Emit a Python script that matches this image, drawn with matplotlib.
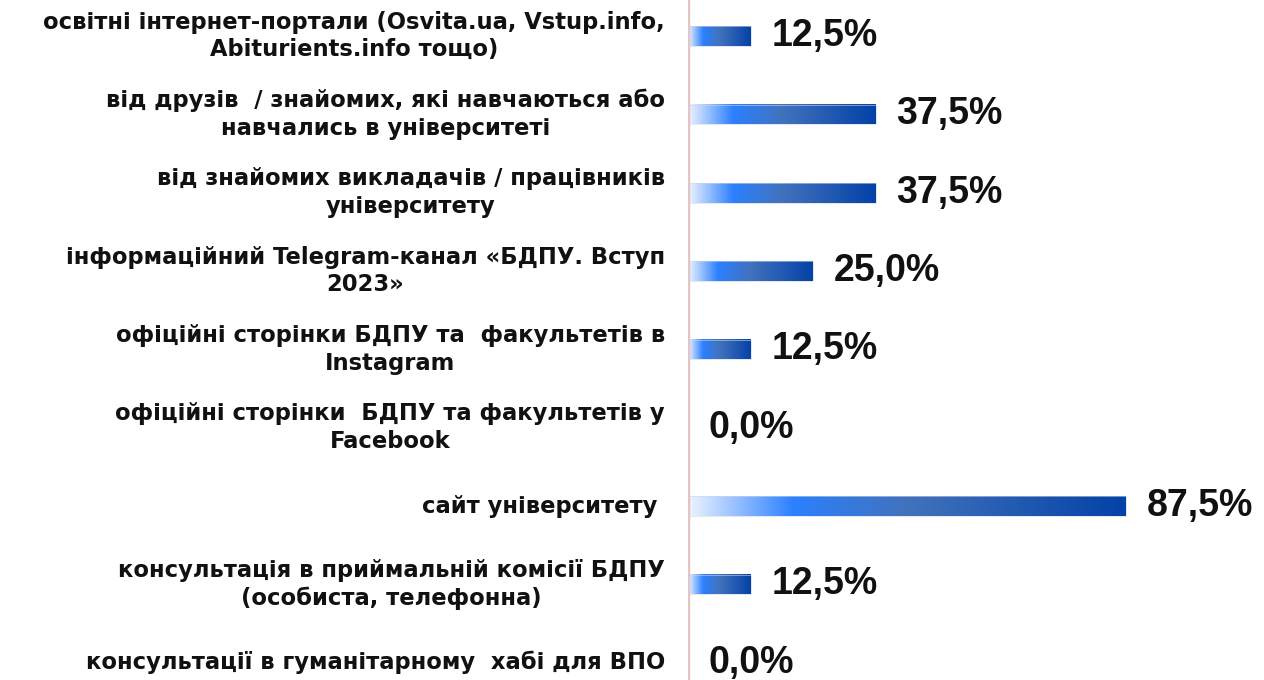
import matplotlib.pyplot as plt
import numpy as np
from matplotlib.colors import LinearSegmentedColormap

plt.rcParams['font.family'] = ['Liberation Sans', 'DejaVu Sans']

labels = [
    "освітні інтернет-портали (Osvita.ua, Vstup.info,\nAbiturients.info тощо)",
    "від друзів  / знайомих, які навчаються або\nнавчались в університеті",
    "від знайомих викладачів / працівників\nуніверситету",
    "інформаційний Telegram-канал «БДПУ. Вступ\n2023»",
    "офіційні сторінки БДПУ та  факультетів в\nInstagram",
    "офіційні сторінки  БДПУ та факультетів у\nFacebook",
    "сайт університету ",
    "консультація в приймальній комісії БДПУ\n(особиста, телефонна)",
    "консультації в гуманітарному  хабі для ВПО",
]
values = [12.5, 37.5, 37.5, 25.0, 12.5, 0.0, 87.5, 12.5, 0.0]

# blue gradient along each bar
bar_cmap = LinearSegmentedColormap.from_list(
    "bar", [(0.0, "#eef4ff"), (0.24, "#2c80ff"), (0.5, "#4272bc"), (1.0, "#0442a8")])
grad = np.linspace(0, 1, 256).reshape(1, -1)

fig = plt.figure(figsize=(12.64, 6.8), dpi=100)
ax = fig.add_axes([688 / 1264, 0, 500 / 1264, 1])

bar_h = 0.25
for i, (lab, v) in enumerate(zip(labels, values)):
    if v > 0:
        ax.imshow(grad, cmap=bar_cmap, aspect="auto",
                  extent=(0, v, i + bar_h / 2, i - bar_h / 2), zorder=2)
        ax.add_patch(plt.Rectangle((0, i - bar_h / 2), v, bar_h, fill=False,
                                   ec="#d0d6e2", lw=0.4, zorder=3))
    ax.annotate(f"{v:.1f}%".replace(".", ","), xy=(v, i), xytext=(21, 0),
                textcoords="offset pixels", ha="left", va="center",
                fontsize=27, fontweight="bold", color="#111111",
                annotation_clip=False)
    ax.text(-0.046, i, lab, transform=ax.get_yaxis_transform(),
            ha="right", va="center", multialignment="center",
            family="DejaVu Sans", fontsize=16.3, fontweight="bold",
            color="#111111", linespacing=1.25)

ax.set_xlim(0, 100)
ax.set_ylim(8.22, -0.46)
ax.axvline(0, color="#e2c6c6", lw=2.5, zorder=4)
ax.set_axis_off()

fig.savefig("out.png", dpi=100)
